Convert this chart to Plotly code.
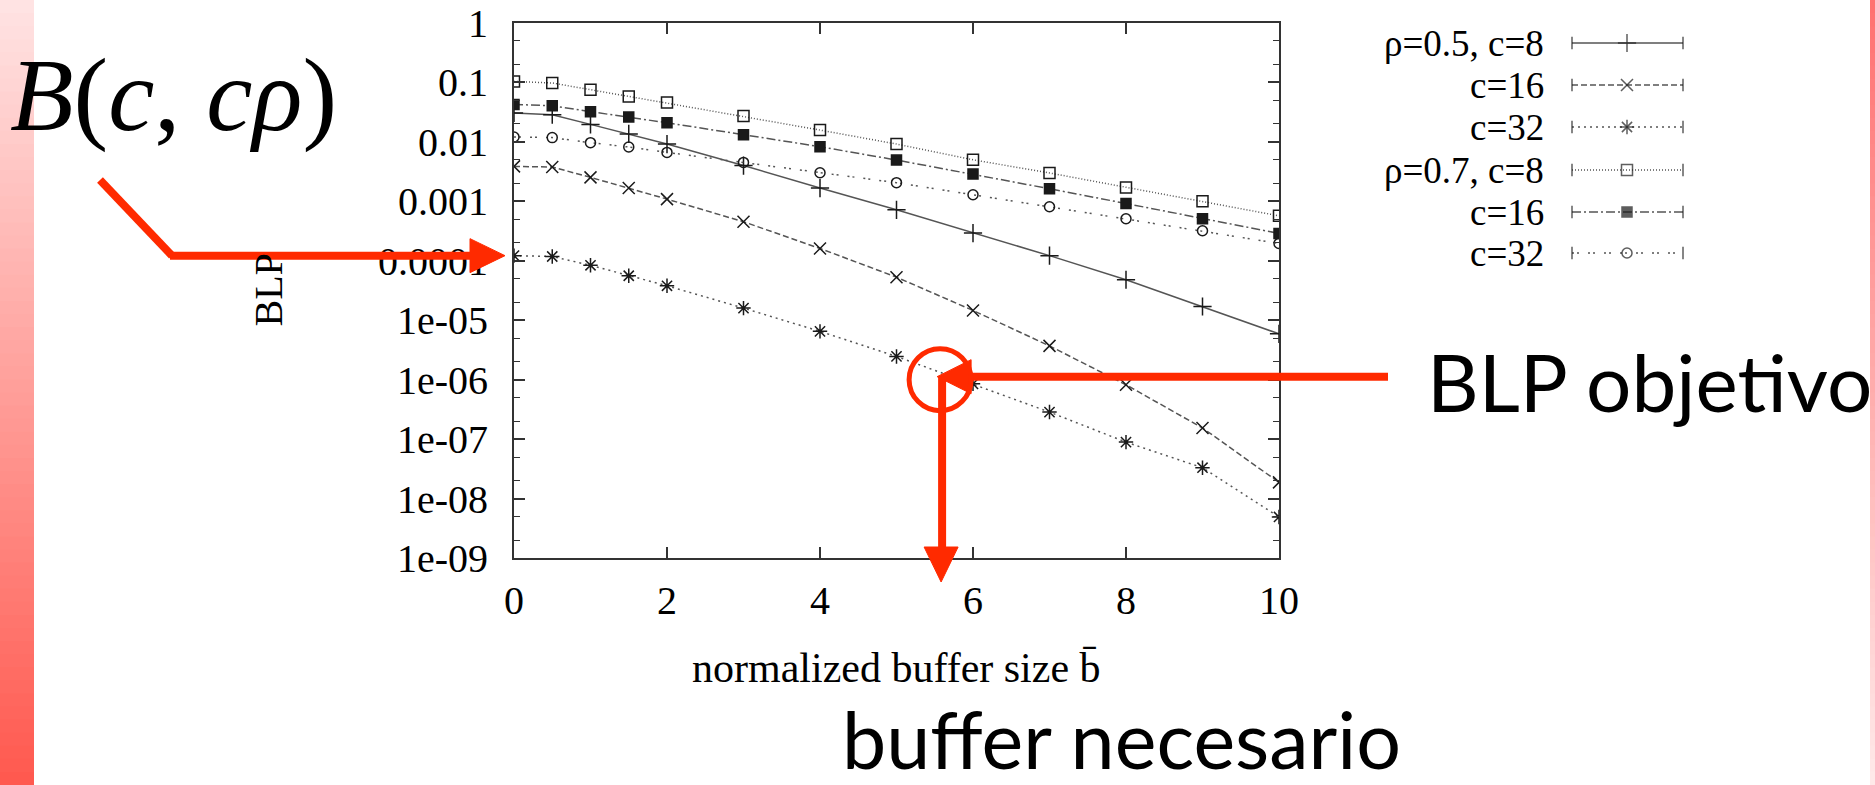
import math
import plotly.graph_objects as go

W, H = 1875, 785

# ---- data -----------------------------------------------------------------
buffer_size = [0, 0.5, 1, 1.5, 2, 3, 4, 5, 6, 7, 8, 9, 10]

blp_r05_c8 = [0.0306, 0.0287, 0.0197, 0.0136, 0.0092, 0.0040, 0.00167, 0.00072,
              0.000293, 0.000122, 4.8e-5, 1.7e-5, 5.9e-6]
blp_r05_c16 = [0.00387, 0.00378, 0.00253, 0.00168, 0.00109, 0.000454, 0.000161,
               5.3e-5, 1.46e-5, 3.7e-6, 8.2e-7, 1.54e-7, 1.87e-8]
blp_r05_c32 = [1.22e-4, 1.18e-4, 8.4e-5, 5.6e-5, 3.8e-5, 1.6e-5, 6.5e-6, 2.46e-6,
               8.5e-7, 2.85e-7, 8.9e-8, 3.3e-8, 4.9e-9]
blp_r07_c8 = [0.104, 0.098, 0.0755, 0.0582, 0.0461, 0.0272, 0.0158, 0.0092,
              0.0050, 0.0030, 0.00171, 0.00100, 0.00057]
blp_r07_c16 = [0.0427, 0.0406, 0.0322, 0.0262, 0.0210, 0.0132, 0.0083, 0.00495,
               0.00288, 0.00163, 0.00092, 0.00051, 0.000289]
blp_r07_c32 = [0.0121, 0.0118, 0.0097, 0.0082, 0.00665, 0.00452, 0.00303, 0.00206,
               0.00129, 0.00081, 0.00051, 0.00032, 0.000196]

series_labels = ["ρ=0.5, c=8", "c=16", "c=32", "ρ=0.7, c=8", "c=16", "c=32"]

x_tick_vals = [0, 2, 4, 6, 8, 10]
y_tick_vals = [1, 0.1, 0.01, 0.001, 0.0001, 1e-5, 1e-6, 1e-7, 1e-8, 1e-9]
y_tick_text = ["1", "0.1", "0.01", "0.001", "0.0001", "1e-05", "1e-06", "1e-07",
               "1e-08", "1e-09"]

blp_target = 1e-6        # target loss probability
buffer_needed = 5.57     # buffer reading for that target (rho=0.5, c=32)
blp_start = blp_r05_c32[0]

# ---- layout geometry (pixels) ---------------------------------------------
PX0, PX1 = 514, 1279     # plot area left / right
PY0, PY1 = 23, 558       # plot area top / bottom
X_RANGE = (0, 10)
Y_LOG_RANGE = (-9, 0)


def fx(px):
    return px / W


def fy(py):
    return 1 - py / H


def data_px(x, y):
    px = PX0 + (x - X_RANGE[0]) / (X_RANGE[1] - X_RANGE[0]) * (PX1 - PX0)
    py = PY1 - (math.log10(y) - Y_LOG_RANGE[0]) / (Y_LOG_RANGE[1] - Y_LOG_RANGE[0]) * (PY1 - PY0)
    return px, py


LINE_COLOR = "#555555"
MARK_COLOR = "#1a1a1a"
SERIF = "Liberation Serif, Times New Roman, serif"
SANS = "Lato, Open Sans, sans-serif"
RED = "#ff2a00"

styles = [
    dict(y=blp_r05_c8, dash="solid", symbol="cross-thin-open", size=13),
    dict(y=blp_r05_c16, dash="6px,3px", symbol="x-thin-open", size=12),
    dict(y=blp_r05_c32, dash="2px,4px", symbol="asterisk-open", size=12),
    dict(y=blp_r07_c8, dash="1px,2px", symbol="square-open", size=11),
    dict(y=blp_r07_c16, dash="9px,3px,2px,3px", symbol="square", size=10),
    dict(y=blp_r07_c32, dash="2px,3px,2px,9px", symbol="circle-open", size=10),
]

fig = go.Figure()

for st, name in zip(styles, series_labels):
    fig.add_trace(go.Scatter(
        x=buffer_size, y=st["y"], mode="lines+markers", name=name,
        line=dict(color=LINE_COLOR, width=1.5, dash=st["dash"]),
        marker=dict(symbol=st["symbol"], size=st["size"], color=MARK_COLOR,
                    line=dict(color=MARK_COLOR, width=1.5)),
        showlegend=False, xaxis="x", yaxis="y",
    ))

# ---- key: text on the left, sample line with end caps on the right --------
key_rows = [43, 85, 127, 170, 212, 253]
key_x = [1572, 1627, 1683]
for st, name, ry in zip(styles, series_labels, key_rows):
    fig.add_trace(go.Scatter(
        x=key_x, y=[ry] * 3, mode="lines+markers",
        line=dict(color=LINE_COLOR, width=1.5, dash=st["dash"]),
        marker=dict(symbol=["line-ns-open", st["symbol"], "line-ns-open"],
                    size=[9, st["size"], 9], color=MARK_COLOR,
                    line=dict(color=MARK_COLOR, width=1.5)),
        showlegend=False, xaxis="x2", yaxis="y2", hoverinfo="skip",
    ))

annotations = []
for name, ry in zip(series_labels, key_rows):
    annotations.append(dict(
        xref="paper", yref="paper", x=fx(1546), y=fy(ry + 1), xanchor="right",
        yanchor="middle", text=name, showarrow=False,
        font=dict(family=SERIF, size=37, color="black")))

# axis titles
annotations.append(dict(
    xref="paper", yref="paper", x=fx((PX0 + PX1) / 2), y=fy(668), xanchor="center",
    yanchor="middle", text="normalized buffer size b\u0304", showarrow=False,
    font=dict(family=SERIF, size=42, color="black")))
annotations.append(dict(
    xref="paper", yref="paper", x=fx(268), y=fy((PY0 + PY1) / 2), xanchor="center",
    yanchor="middle", text="BLP", textangle=-90, showarrow=False,
    font=dict(family=SERIF, size=40, color="black")))

# slide callouts
annotations.append(dict(
    xref="paper", yref="paper", x=fx(8), y=fy(95), xanchor="left",
    yanchor="middle", text="<i>B</i>(<i>c</i>, <i>cρ</i>)", showarrow=False,
    font=dict(family=SERIF, size=104, color="black")))
annotations.append(dict(
    xref="paper", yref="paper", x=fx(1425), y=fy(381), xanchor="left",
    yanchor="middle", text="BLP objetivo", showarrow=False,
    font=dict(family=SANS, size=80, color="black")))
annotations.append(dict(
    xref="paper", yref="paper", x=fx(840), y=fy(738), xanchor="left",
    yanchor="middle", text="buffer necesario", showarrow=False,
    font=dict(family=SANS, size=79, color="black")))

shapes = []

# side bars with vertical colour ramps (strips overlap to avoid seams)
N = 60
step = H / N
for i in range(N):
    tm = (i + 0.5) / N
    y_top = i * step
    y_bot = min(H, (i + 1) * step + 2)
    g_left = int(round(228 - 140 * tm))
    b_left = int(round(228 - 150 * tm))
    shapes.append(dict(type="rect", xref="paper", yref="paper", x0=0, x1=fx(34),
                       y0=fy(y_bot), y1=fy(y_top), line=dict(width=0),
                       fillcolor=f"rgb(255,{g_left},{b_left})", layer="below"))
    g_right = int(round(112 + 122 * tm))
    shapes.append(dict(type="rect", xref="paper", yref="paper", x0=fx(1870), x1=1,
                       y0=fy(y_bot), y1=fy(y_top), line=dict(width=0),
                       fillcolor=f"rgb(255,{g_right},{g_right})", layer="below"))


def seg(x0, y0, x1, y1, w=8):
    return dict(type="line", xref="paper", yref="paper", x0=fx(x0), y0=fy(y0),
                x1=fx(x1), y1=fy(y1), line=dict(color=RED, width=w))


def tri(pts):
    path = "M " + " L ".join(f"{fx(a)},{fy(b)}" for a, b in pts) + " Z"
    return dict(type="path", xref="paper", yref="paper", path=path,
                fillcolor=RED, line=dict(color=RED, width=1))


# arrow from B(c, c rho) to the starting value on the axis
sx, sy = data_px(0, blp_start)
shapes.append(seg(100, 180, 172, sy))
shapes.append(seg(170, sy, sx - 40, sy))
shapes.append(tri([(sx - 9, sy), (sx - 44, sy - 17), (sx - 44, sy + 17)]))

# target BLP pointer
tx, ty = data_px(buffer_needed, blp_target)
shapes.append(seg(tx + 28, ty - 3, 1388, ty - 3))
shapes.append(tri([(tx - 3, ty - 3), (tx + 31, ty - 20), (tx + 31, ty + 14)]))
shapes.append(dict(type="circle", xref="paper", yref="paper",
                   x0=fx(tx - 31), x1=fx(tx + 31), y0=fy(ty + 31), y1=fy(ty - 31),
                   line=dict(color=RED, width=5)))
# required buffer pointer
shapes.append(seg(tx + 2, ty - 3, tx + 2, 550))
shapes.append(tri([(tx + 1, 582), (tx - 16, 547), (tx + 18, 547)]))

axis_common = dict(showline=True, linecolor="#333333", linewidth=2, mirror="ticks",
                   ticks="inside", tickcolor="#333333", tickwidth=1.5, ticklen=11,
                   showgrid=False, zeroline=False, automargin=False,
                   tickfont=dict(family=SERIF, size=40, color="black"))

fig.update_layout(
    width=W, height=H,
    margin=dict(l=0, r=0, t=0, b=0, pad=0, autoexpand=False),
    paper_bgcolor="white", plot_bgcolor="rgba(0,0,0,0)",
    xaxis=dict(domain=[fx(PX0), fx(PX1)], range=list(X_RANGE), tickmode="array",
               tickvals=x_tick_vals, ticktext=[str(v) for v in x_tick_vals],
               ticklabelstandoff=6, **axis_common),
    yaxis=dict(domain=[fy(PY1), fy(PY0)], type="log", range=list(Y_LOG_RANGE),
               tickmode="array", tickvals=y_tick_vals, ticktext=y_tick_text,
               ticklabelstandoff=16,
               minor=dict(dtick="D2", ticks="inside", ticklen=6, tickcolor="#333333",
                          tickwidth=1.2),
               **axis_common),
    xaxis2=dict(domain=[0, 1], range=[0, W], visible=False, anchor="y2",
                automargin=False),
    yaxis2=dict(domain=[0, 1], range=[H, 0], visible=False, anchor="x2",
                automargin=False),
    annotations=annotations,
    shapes=shapes,
    showlegend=False,
)

fig.write_html("out.html")
